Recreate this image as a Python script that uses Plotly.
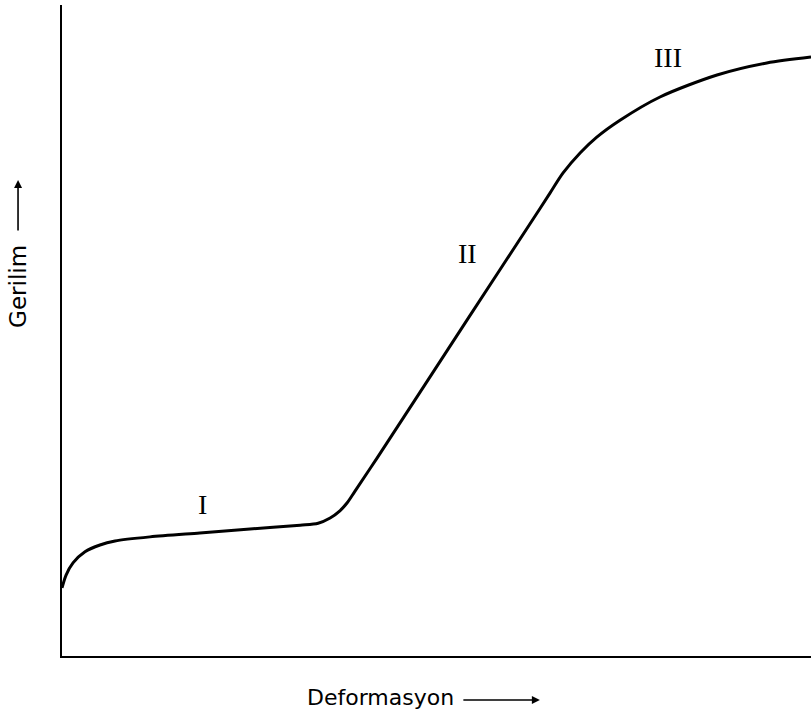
import plotly.graph_objects as go

# Deformation (x) and stress (y) in arbitrary units (0-100 scale)
deformasyon = [0, 0.53, 1.47, 3.07, 5.07, 7.08, 11.75, 18.4, 25.1, 31.8, 34.2, 35.8,
               37.1, 38.05, 39.1, 42.06, 54.07, 63.8, 65.15, 66.9, 69.2, 71.4, 74.5,
               79.84, 87.45, 94.1, 100]
gerilim = [10.45, 12.4, 14.3, 16.0, 17.05, 17.67, 18.3, 18.9, 19.5, 20.1, 20.4, 21.2,
           22.3, 23.5, 25.3, 30.4, 51.6, 68.7, 71.1, 74.2, 77.3, 79.7, 82.3,
           85.87, 89.25, 91.1, 92.0]

stage_labels = ["I", "II", "III"]
stage_x = [18.7, 54.1, 80.9]
stage_y = [23.2, 61.9, 92.0]

fig = go.Figure()
fig.add_trace(go.Scatter(
    x=deformasyon, y=gerilim, mode="lines",
    line=dict(color="black", width=3, shape="spline", smoothing=0.8),
    showlegend=False, hoverinfo="skip"))

for lab, sx, sy in zip(stage_labels, stage_x, stage_y):
    fig.add_annotation(x=sx, y=sy, text=lab, showarrow=False,
                       xanchor="center", yanchor="middle",
                       font=dict(family="Liberation Serif", size=28, color="black"))

# axis titles with arrows
fig.add_annotation(xref="paper", yref="paper", x=-0.0587, y=0.567, text="Gerilim",
                   textangle=-90, showarrow=False, xanchor="center", yanchor="middle",
                   font=dict(family="DejaVu Sans", size=23, color="black"))
fig.add_annotation(xref="paper", yref="paper", x=-0.0587, y=0.731, text="",
                   showarrow=True, ax=0, ay=52, arrowhead=2, arrowsize=1,
                   arrowwidth=1.6, arrowcolor="black")
fig.add_annotation(xref="paper", yref="paper", x=0.425, y=-0.063, text="Deformasyon",
                   showarrow=False, xanchor="center", yanchor="middle",
                   font=dict(family="DejaVu Sans", size=22, color="black"))
fig.add_annotation(xref="paper", yref="paper", x=0.638, y=-0.0676, text="",
                   showarrow=True, ax=-78, ay=0, arrowhead=2, arrowsize=1,
                   arrowwidth=1.6, arrowcolor="black")

axis_common = dict(showline=True, linecolor="black", linewidth=2, showgrid=False,
                   zeroline=False, showticklabels=False, ticks="", fixedrange=True)
fig.update_xaxes(range=[0, 100], **axis_common)
fig.update_yaxes(range=[0, 100], **axis_common)

fig.update_layout(width=811, height=710, margin=dict(l=62, r=0, t=5, b=54),
                  plot_bgcolor="white", paper_bgcolor="white")

fig.write_html("out.html", config={"displayModeBar": False},
               post_script="document.body.style.margin='0';document.body.style.overflow='hidden';")
